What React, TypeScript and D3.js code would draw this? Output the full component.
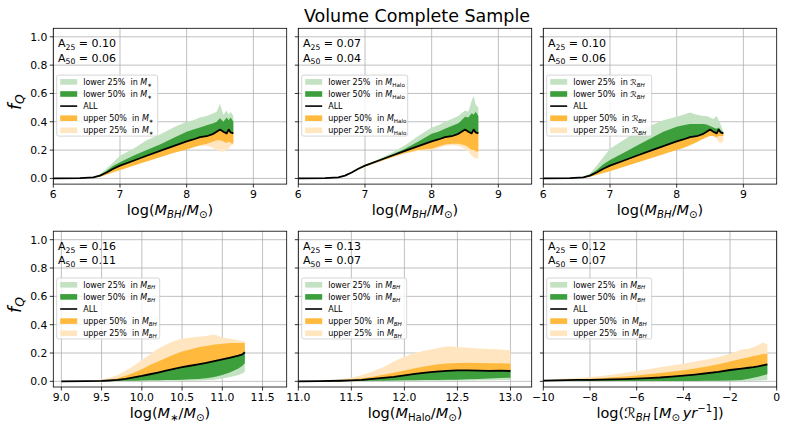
import React from 'react';
import * as d3 from 'd3';

const W = 789;
const H = 434;
const FONT = 'DejaVu Sans, Verdana, sans-serif';

// ---- top row: f_Q vs log(M_BH), the ALL curve is shared ----
const topX = [6.0, 6.4, 6.6, 6.7, 6.8, 6.9, 7.0, 7.2, 7.4, 7.6, 7.8, 8.0, 8.1, 8.2, 8.3, 8.4, 8.45, 8.5, 8.55, 8.6, 8.63, 8.66, 8.7];
const topAll = [0, 0.002, 0.008, 0.02, 0.042, 0.068, 0.09, 0.125, 0.16, 0.195, 0.228, 0.262, 0.275, 0.292, 0.298, 0.315, 0.33, 0.345, 0.33, 0.318, 0.345, 0.325, 0.318];

// split in M_*
const tlLo25 = [0, 0.003, 0.012, 0.03, 0.07, 0.115, 0.16, 0.21, 0.27, 0.31, 0.36, 0.4, 0.41, 0.43, 0.44, 0.46, 0.47, 0.525, 0.45, 0.48, 0.45, 0.47, 0.44];
const tlLo50 = [0, 0.002, 0.01, 0.025, 0.055, 0.09, 0.115, 0.16, 0.2, 0.24, 0.285, 0.33, 0.345, 0.36, 0.375, 0.39, 0.4, 0.425, 0.4, 0.43, 0.41, 0.43, 0.4];
const tlUp50 = [0, 0.001, 0.005, 0.012, 0.028, 0.045, 0.06, 0.09, 0.12, 0.15, 0.18, 0.205, 0.22, 0.235, 0.245, 0.26, 0.27, 0.27, 0.26, 0.25, 0.26, 0.25, 0.245];
const tlUp25 = [0, 0.001, 0.006, 0.013, 0.025, 0.04, 0.055, 0.092, 0.125, 0.155, 0.185, 0.21, 0.22, 0.23, 0.23, 0.215, 0.2, 0.19, 0.19, 0.2, 0.21, 0.23, 0.24];

// split in M_Halo
const tmLo25 = [0, 0.002, 0.009, 0.021, 0.044, 0.07, 0.095, 0.135, 0.18, 0.235, 0.3, 0.36, 0.375, 0.4, 0.42, 0.44, 0.46, 0.48, 0.47, 0.55, 0.58, 0.52, 0.5];
const tmLo50 = [0, 0.002, 0.008, 0.02, 0.042, 0.068, 0.092, 0.13, 0.168, 0.21, 0.26, 0.315, 0.33, 0.35, 0.37, 0.39, 0.41, 0.435, 0.43, 0.46, 0.45, 0.47, 0.44];
const tmUp50 = [0, 0.002, 0.007, 0.019, 0.04, 0.064, 0.085, 0.118, 0.15, 0.18, 0.2, 0.21, 0.225, 0.24, 0.245, 0.245, 0.24, 0.235, 0.22, 0.2, 0.2, 0.19, 0.19];
const tmUp25 = [0, 0.002, 0.007, 0.018, 0.038, 0.06, 0.08, 0.112, 0.145, 0.175, 0.195, 0.2, 0.215, 0.23, 0.235, 0.23, 0.22, 0.21, 0.19, 0.16, 0.15, 0.14, 0.14];

// split in accretion rate
const trLo25 = [0, 0.002, 0.012, 0.035, 0.09, 0.15, 0.21, 0.27, 0.33, 0.37, 0.41, 0.435, 0.45, 0.465, 0.45, 0.44, 0.44, 0.43, 0.42, 0.44, 0.41, 0.38, 0.33];
const trLo50 = [0, 0.002, 0.01, 0.027, 0.06, 0.1, 0.13, 0.18, 0.23, 0.28, 0.33, 0.365, 0.375, 0.385, 0.385, 0.385, 0.38, 0.37, 0.36, 0.35, 0.36, 0.34, 0.325];
const trUp50 = [0, 0.001, 0.005, 0.012, 0.025, 0.038, 0.05, 0.08, 0.11, 0.14, 0.17, 0.2, 0.215, 0.235, 0.255, 0.28, 0.29, 0.3, 0.3, 0.29, 0.3, 0.3, 0.3];
const trUp25 = [0, 0.001, 0.006, 0.013, 0.028, 0.042, 0.055, 0.085, 0.115, 0.145, 0.175, 0.205, 0.22, 0.24, 0.26, 0.285, 0.295, 0.305, 0.3, 0.28, 0.26, 0.25, 0.26];

// ---- bottom row: split in M_BH ----
const blX = [9.0, 9.3, 9.5, 9.6, 9.7, 9.8, 9.9, 10.0, 10.1, 10.2, 10.3, 10.4, 10.5, 10.6, 10.7, 10.8, 10.9, 11.0, 11.1, 11.2, 11.25, 11.28];
const blAll = [0, 0.001, 0.003, 0.006, 0.01, 0.018, 0.028, 0.038, 0.05, 0.062, 0.075, 0.088, 0.1, 0.11, 0.12, 0.13, 0.142, 0.155, 0.168, 0.182, 0.19, 0.205];
const blUp25 = [0, 0.003, 0.012, 0.025, 0.045, 0.075, 0.11, 0.15, 0.19, 0.23, 0.26, 0.285, 0.3, 0.31, 0.315, 0.32, 0.33, 0.31, 0.3, 0.29, 0.285, 0.285];
const blUp50 = [0, 0.002, 0.006, 0.012, 0.022, 0.04, 0.06, 0.085, 0.115, 0.14, 0.165, 0.19, 0.21, 0.225, 0.24, 0.25, 0.26, 0.265, 0.27, 0.27, 0.27, 0.27];
const blLo50 = [0, 0, 0.001, 0.002, 0.003, 0.004, 0.005, 0.006, 0.007, 0.008, 0.009, 0.01, 0.012, 0.014, 0.017, 0.022, 0.03, 0.045, 0.065, 0.09, 0.11, 0.13];
const blLo25 = [0, 0, 0, 0.001, 0.001, 0.002, 0.002, 0.003, 0.003, 0.003, 0.004, 0.004, 0.005, 0.005, 0.006, 0.008, 0.012, 0.02, 0.03, 0.045, 0.055, 0.07];

const bmX = [11.0, 11.2, 11.4, 11.5, 11.6, 11.7, 11.8, 11.9, 12.0, 12.1, 12.2, 12.3, 12.4, 12.5, 12.6, 12.7, 12.8, 12.9, 13.0];
const bmAll = [0, 0.001, 0.004, 0.007, 0.011, 0.017, 0.024, 0.032, 0.042, 0.052, 0.061, 0.068, 0.074, 0.077, 0.077, 0.075, 0.074, 0.075, 0.073];
const bmUp25 = [0, 0.004, 0.015, 0.026, 0.045, 0.07, 0.1, 0.14, 0.176, 0.2, 0.218, 0.232, 0.247, 0.243, 0.238, 0.232, 0.228, 0.225, 0.22];
const bmUp50 = [0, 0.002, 0.008, 0.014, 0.022, 0.033, 0.046, 0.061, 0.077, 0.093, 0.107, 0.118, 0.126, 0.13, 0.131, 0.13, 0.128, 0.127, 0.125];
const bmLo50 = [0, 0, 0.001, 0.002, 0.003, 0.004, 0.005, 0.006, 0.007, 0.008, 0.009, 0.01, 0.011, 0.012, 0.014, 0.017, 0.02, 0.023, 0.026];
const bmLo25 = [0, 0, 0, 0.001, 0.001, 0.002, 0.002, 0.003, 0.003, 0.004, 0.004, 0.005, 0.005, 0.006, 0.006, 0.007, 0.008, 0.009, 0.01];

const brX = [-10, -9.5, -9, -8.5, -8, -7.5, -7, -6.5, -6, -5.5, -5, -4.5, -4, -3.5, -3, -2.5, -2, -1.5, -1.2, -1, -0.8, -0.6, -0.4];
const brAll = [0.005, 0.007, 0.009, 0.01, 0.011, 0.012, 0.014, 0.016, 0.019, 0.023, 0.027, 0.033, 0.04, 0.048, 0.057, 0.067, 0.08, 0.09, 0.096, 0.1, 0.106, 0.113, 0.12];
const brUp25 = [0.005, 0.015, 0.02, 0.024, 0.03, 0.038, 0.048, 0.06, 0.073, 0.085, 0.1, 0.112, 0.125, 0.14, 0.155, 0.172, 0.195, 0.225, 0.23, 0.24, 0.255, 0.275, 0.26];
const brUp50 = [0.005, 0.009, 0.012, 0.015, 0.018, 0.022, 0.028, 0.034, 0.041, 0.05, 0.059, 0.068, 0.078, 0.09, 0.104, 0.12, 0.14, 0.16, 0.17, 0.178, 0.185, 0.193, 0.195];
const brLo50 = [0.005, 0.004, 0.004, 0.004, 0.003, 0.003, 0.003, 0.003, 0.003, 0.003, 0.003, 0.003, 0.003, 0.003, 0.004, 0.005, 0.006, 0.01, 0.018, 0.025, 0.032, 0.042, 0.05];
const brLo25 = [0.005, 0.004, 0.003, 0.003, 0.003, 0.002, 0.002, 0.002, 0.002, 0.002, 0.002, 0.002, 0.002, 0.002, 0.002, 0.002, 0.002, 0.002, 0.003, 0.005, 0.006, 0.008, 0.01];

const a25 = ['0.10', '0.07', '0.10', '0.16', '0.13', '0.12'];
const a50 = ['0.06', '0.04', '0.06', '0.11', '0.07', '0.07'];
const yTicks = [0, 0.2, 0.4, 0.6, 0.8, 1.0];

const C_LO25 = '#c3e2c1';
const C_LO50 = '#3c9f3c';
const C_UP50 = '#ffba3e';
const C_UP25 = '#ffe6c0';

type Seg = { t: string; it?: boolean; sub?: boolean; sup?: boolean };

function MathText({ segs, fs }: { segs: Seg[]; fs: number }) {
  let cur = 0;
  return (
    <>
      {segs.map((s, i) => {
        const target = s.sub ? fs * 0.22 : s.sup ? -fs * 0.4 : 0;
        const dy = target - cur;
        cur = target;
        return (
          <tspan key={i} dy={dy} fontSize={s.sub || s.sup ? fs * 0.7 : fs} fontStyle={s.it ? 'italic' : 'normal'}>
            {s.t}
          </tspan>
        );
      })}
    </>
  );
}

const symMstar: Seg[] = [{ t: 'M', it: true }, { t: '∗', sub: true }];
const symMhalo: Seg[] = [{ t: 'M', it: true }, { t: 'Halo', sub: true }];
const symRbh: Seg[] = [{ t: 'ℛ', it: true }, { t: 'BH', it: true, sub: true }];
const symMbh: Seg[] = [{ t: 'M', it: true }, { t: 'BH', it: true, sub: true }];
const sun: Seg[] = [{ t: '/' }, { t: 'M', it: true }, { t: '⊙', sub: true }, { t: ')' }];

interface PanelDef {
  xs: number[];
  all: number[];
  lo25: number[];
  lo50: number[];
  up50: number[];
  up25: number[];
  xDomain: [number, number];
  xTicks: number[];
  fmt: (v: number) => string;
  xlabel: Seg[];
  sym: Seg[];
  legendW: number;
}

const fmtInt = (v: number) => String(v).replace('-', '−');
const fmt1 = (v: number) => v.toFixed(1);

const panels: PanelDef[] = [
  { xs: topX, all: topAll, lo25: tlLo25, lo50: tlLo50, up50: tlUp50, up25: tlUp25, xDomain: [6, 9.5], xTicks: [6, 7, 8, 9], fmt: fmtInt,
    xlabel: [{ t: 'log(' }, { t: 'M', it: true }, { t: 'BH', it: true, sub: true }, ...sun], sym: symMstar, legendW: 101 },
  { xs: topX, all: topAll, lo25: tmLo25, lo50: tmLo50, up50: tmUp50, up25: tmUp25, xDomain: [6, 9.5], xTicks: [6, 7, 8, 9], fmt: fmtInt,
    xlabel: [{ t: 'log(' }, { t: 'M', it: true }, { t: 'BH', it: true, sub: true }, ...sun], sym: symMhalo, legendW: 106 },
  { xs: topX, all: topAll, lo25: trLo25, lo50: trLo50, up50: trUp50, up25: trUp25, xDomain: [6, 9.5], xTicks: [6, 7, 8, 9], fmt: fmtInt,
    xlabel: [{ t: 'log(' }, { t: 'M', it: true }, { t: 'BH', it: true, sub: true }, ...sun], sym: symRbh, legendW: 105 },
  { xs: blX, all: blAll, lo25: blLo25, lo50: blLo50, up50: blUp50, up25: blUp25, xDomain: [8.9, 11.8], xTicks: [9, 9.5, 10, 10.5, 11, 11.5], fmt: fmt1,
    xlabel: [{ t: 'log(' }, { t: 'M', it: true }, { t: '∗', sub: true }, ...sun], sym: symMbh, legendW: 103 },
  { xs: bmX, all: bmAll, lo25: bmLo25, lo50: bmLo50, up50: bmUp50, up25: bmUp25, xDomain: [11.0, 13.2], xTicks: [11, 11.5, 12, 12.5, 13], fmt: fmt1,
    xlabel: [{ t: 'log(' }, { t: 'M', it: true }, { t: 'Halo', sub: true }, ...sun], sym: symMbh, legendW: 105 },
  { xs: brX, all: brAll, lo25: brLo25, lo50: brLo50, up50: brUp50, up25: brUp25, xDomain: [-10, 0], xTicks: [-10, -8, -6, -4, -2, 0], fmt: fmtInt,
    xlabel: [{ t: 'log(' }, { t: 'ℛ', it: true }, { t: 'BH', it: true, sub: true }, { t: '\u2009[' }, { t: 'M', it: true }, { t: '⊙', sub: true },
      { t: '\u2009' }, { t: 'yr', it: true }, { t: '−1', sup: true }, { t: '])' }], sym: symMbh, legendW: 105 },
];

const colLeft = [53.3, 298.3, 543.3];
const rowTop = [28.3, 231.2];
const PW = 233.4;
const PH = 155.8;
const TICK_FS = 10.8;

function Panel({ p, idx }: { p: PanelDef; idx: number }) {
  const col = idx % 3;
  const row = Math.floor(idx / 3);
  const left = colLeft[col];
  const top = rowTop[row];
  const x = d3.scaleLinear().domain(p.xDomain).range([left, left + PW]);
  const y = d3.scaleLinear().domain([-0.04, 1.06]).range([top + PH, top]);
  const idxs = d3.range(p.xs.length);
  const band = (vals: number[]) =>
    d3.area<number>().x((i) => x(p.xs[i])).y0((i) => y(p.all[i])).y1((i) => y(vals[i]))(idxs) || '';
  const line = d3.line<number>().x((i) => x(p.xs[i])).y((i) => y(p.all[i]))(idxs) || '';
  const clip = `clip${idx}`;
  const lgX = left + 3.4;
  const lgY = y(1.0) + 38.3;
  const entries = [
    { lab: 'lower 25%  in ', c: C_LO25 },
    { lab: 'lower 50%  in ', c: C_LO50 },
    { lab: 'ALL', c: null },
    { lab: 'upper 50%  in ', c: C_UP50 },
    { lab: 'upper 25%  in ', c: C_UP25 },
  ];
  return (
    <g>
      <defs>
        <clipPath id={clip}>
          <rect x={left} y={top} width={PW} height={PH} />
        </clipPath>
      </defs>
      <rect x={left} y={top} width={PW} height={PH} fill="#fff" />
      <g stroke="#b0b0b0" strokeWidth={0.8}>
        {p.xTicks.map((t) => (
          <line key={'gx' + t} x1={x(t)} x2={x(t)} y1={top} y2={top + PH} />
        ))}
        {yTicks.map((t) => (
          <line key={'gy' + t} x1={left} x2={left + PW} y1={y(t)} y2={y(t)} />
        ))}
      </g>
      <g clipPath={`url(#${clip})`}>
        <path d={band(p.lo25)} fill={C_LO25} />
        <path d={band(p.up25)} fill={C_UP25} />
        <path d={band(p.lo50)} fill={C_LO50} />
        <path d={band(p.up50)} fill={C_UP50} />
        <path d={line} fill="none" stroke="#000" strokeWidth={1.8} strokeLinejoin="round" />
      </g>
      <rect x={left} y={top} width={PW} height={PH} fill="none" stroke="#000" strokeWidth={0.8} />
      <g stroke="#000" strokeWidth={0.8}>
        {p.xTicks.map((t) => (
          <line key={'tx' + t} x1={x(t)} x2={x(t)} y1={top + PH} y2={top + PH + 3.5} />
        ))}
        {yTicks.map((t) => (
          <line key={'ty' + t} x1={left - 3.5} x2={left} y1={y(t)} y2={y(t)} />
        ))}
      </g>
      <g fontSize={TICK_FS} fill="#000">
        {p.xTicks.map((t) => (
          <text key={'lx' + t} x={x(t)} y={top + PH + 13.5} textAnchor="middle">
            {p.fmt(t)}
          </text>
        ))}
        {col === 0 &&
          yTicks.map((t) => (
            <text key={'ly' + t} x={left - 6} y={y(t) + 3.9} textAnchor="end">
              {t.toFixed(1)}
            </text>
          ))}
      </g>
      <text x={left + PW / 2} y={top + PH + 30.5} textAnchor="middle" fontSize={14.5}>
        <MathText segs={p.xlabel} fs={14.5} />
      </text>
      {col === 0 && (
        <text transform={`translate(${20.5},${top + PH / 2 - 4}) rotate(-90)`} textAnchor="middle" fontSize={17.5}>
          <MathText segs={[{ t: 'f', it: true }, { t: 'Q', it: true, sub: true }]} fs={17.5} />
        </text>
      )}
      <text x={left + 4.7} y={y(1.0) + 10.6} fontSize={11} style={{ whiteSpace: 'pre' }}>
        <MathText segs={[{ t: 'A' }, { t: '25', sub: true }, { t: ' = ' + a25[idx] }]} fs={11} />
      </text>
      <text x={left + 4.7} y={y(1.0) + 24.8} fontSize={11} style={{ whiteSpace: 'pre' }}>
        <MathText segs={[{ t: 'A' }, { t: '50', sub: true }, { t: ' = ' + a50[idx] }]} fs={11} />
      </text>
      <g>
        <rect x={lgX} y={lgY} width={p.legendW} height={61} rx={2} fill="#fff" fillOpacity={0.8} stroke="#cccccc" strokeWidth={0.8} />
        {entries.map((e, i) => {
          const cy = lgY + 6.8 + i * 12.1;
          return (
            <g key={i}>
              {e.c ? (
                <rect x={lgX + 3.5} y={cy - 2.8} width={17} height={5.6} fill={e.c} />
              ) : (
                <line x1={lgX + 3.5} x2={lgX + 20.5} y1={cy} y2={cy} stroke="#000" strokeWidth={1.6} />
              )}
              <text x={lgX + 26.5} y={cy + 2.9} fontSize={8} style={{ whiteSpace: 'pre' }}>
                {e.c ? <MathText segs={[{ t: e.lab }, ...p.sym]} fs={8} /> : e.lab}
              </text>
            </g>
          );
        })}
      </g>
    </g>
  );
}

export default function App() {
  return (
    <svg width={W} height={H} style={{ position: 'absolute', left: 0, top: 0, fontFamily: FONT, background: '#fff' }}>
      <rect width={W} height={H} fill="#fff" />
      <text x={417} y={21.7} textAnchor="middle" fontSize={17.5}>
        Volume Complete Sample
      </text>
      {panels.map((p, i) => (
        <Panel key={i} p={p} idx={i} />
      ))}
    </svg>
  );
}
